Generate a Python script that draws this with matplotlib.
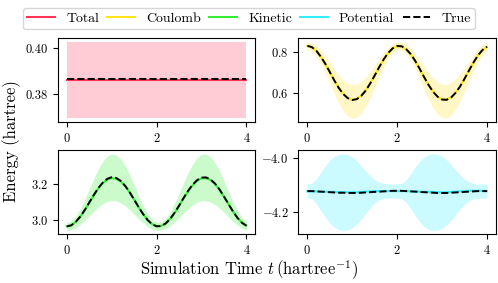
import numpy as np
import matplotlib
matplotlib.use('Agg')
import matplotlib.pyplot as plt
from matplotlib.ticker import MultipleLocator

plt.rcParams['font.family'] = 'serif'
plt.rcParams['font.serif'] = ['cmr10']
plt.rcParams['mathtext.fontset'] = 'cm'
plt.rcParams['axes.formatter.use_mathtext'] = True
plt.rcParams['axes.unicode_minus'] = True

# time grid (hartree^-1)
t = np.round(np.arange(41) * 0.1, 1)

# Total energy
total_true = [0.3867] * 41
total_pred = [0.3862] * 41
total_lo = [0.3696] * 41
total_hi = [0.4029] * 41

# Coulomb energy
coul_true = [0.830, 0.824, 0.806, 0.777, 0.742, 0.702, 0.661, 0.624, 0.594, 0.574,
             0.565, 0.569, 0.585, 0.611, 0.646, 0.685, 0.726, 0.764, 0.795, 0.818,
             0.829, 0.828, 0.814, 0.790, 0.757, 0.718, 0.677, 0.638, 0.605, 0.581,
             0.567, 0.566, 0.577, 0.600, 0.631, 0.669, 0.710, 0.749, 0.784, 0.810, 0.826]
coul_pred = [0.829, 0.823, 0.806, 0.778, 0.743, 0.703, 0.662, 0.625, 0.595, 0.575,
             0.566, 0.570, 0.586, 0.612, 0.646, 0.685, 0.725, 0.763, 0.794, 0.817,
             0.828, 0.827, 0.813, 0.790, 0.757, 0.718, 0.678, 0.639, 0.606, 0.582,
             0.568, 0.567, 0.578, 0.601, 0.632, 0.669, 0.709, 0.748, 0.783, 0.809, 0.825]
coul_hi = [0.850, 0.845, 0.831, 0.808, 0.780, 0.749, 0.716, 0.687, 0.663, 0.647,
           0.640, 0.643, 0.656, 0.676, 0.704, 0.735, 0.768, 0.798, 0.822, 0.841,
           0.849, 0.849, 0.837, 0.818, 0.792, 0.761, 0.729, 0.698, 0.672, 0.653,
           0.642, 0.641, 0.650, 0.668, 0.692, 0.722, 0.755, 0.786, 0.814, 0.834, 0.847]
coul_lo = [0.810, 0.802, 0.780, 0.743, 0.699, 0.648, 0.596, 0.550, 0.512, 0.486,
           0.475, 0.480, 0.500, 0.533, 0.577, 0.627, 0.679, 0.727, 0.766, 0.795,
           0.809, 0.807, 0.790, 0.759, 0.718, 0.668, 0.617, 0.567, 0.526, 0.495,
           0.478, 0.476, 0.490, 0.519, 0.559, 0.607, 0.658, 0.708, 0.752, 0.785, 0.805]

# Kinetic energy
kin_true = [2.965, 2.971, 2.990, 3.019, 3.055, 3.096, 3.137, 3.175, 3.205, 3.226,
            3.235, 3.231, 3.215, 3.188, 3.153, 3.112, 3.071, 3.033, 3.000, 2.977,
            2.966, 2.967, 2.981, 3.006, 3.040, 3.079, 3.121, 3.160, 3.194, 3.219,
            3.233, 3.234, 3.223, 3.200, 3.168, 3.129, 3.088, 3.047, 3.012, 2.985, 2.969]
kin_pred = [2.966, 2.972, 2.990, 3.018, 3.054, 3.094, 3.135, 3.172, 3.202, 3.222,
            3.230, 3.227, 3.212, 3.186, 3.152, 3.112, 3.071, 3.033, 3.001, 2.978,
            2.967, 2.968, 2.982, 3.006, 3.039, 3.078, 3.119, 3.157, 3.190, 3.215,
            3.229, 3.230, 3.220, 3.198, 3.167, 3.129, 3.088, 3.048, 3.013, 2.986, 2.970]
kin_hi = [2.987, 2.996, 3.022, 3.062, 3.112, 3.169, 3.227, 3.279, 3.321, 3.350,
          3.363, 3.357, 3.335, 3.298, 3.249, 3.192, 3.135, 3.082, 3.036, 3.004,
          2.988, 2.990, 3.009, 3.044, 3.091, 3.146, 3.204, 3.259, 3.306, 3.341,
          3.360, 3.362, 3.346, 3.314, 3.270, 3.215, 3.158, 3.101, 3.053, 3.015, 2.993]
kin_lo = [2.943, 2.947, 2.958, 2.976, 2.998, 3.023, 3.048, 3.071, 3.089, 3.102,
          3.107, 3.105, 3.095, 3.079, 3.057, 3.032, 3.007, 2.985, 2.964, 2.950,
          2.944, 2.944, 2.953, 2.968, 2.989, 3.012, 3.038, 3.061, 3.082, 3.097,
          3.106, 3.106, 3.100, 3.086, 3.067, 3.043, 3.018, 2.993, 2.972, 2.955, 2.945]

# Potential energy
pot_true = [-4.124, -4.124, -4.125, -4.126, -4.127, -4.128, -4.129, -4.130, -4.130, -4.131,
            -4.131, -4.131, -4.130, -4.129, -4.128, -4.127, -4.126, -4.125, -4.124, -4.123,
            -4.123, -4.123, -4.124, -4.125, -4.126, -4.127, -4.128, -4.129, -4.130, -4.131,
            -4.131, -4.131, -4.130, -4.129, -4.128, -4.127, -4.126, -4.125, -4.124, -4.124, -4.124]
pot_pred = [-4.125, -4.125, -4.125, -4.126, -4.126, -4.127, -4.127, -4.128, -4.128, -4.128,
            -4.128, -4.128, -4.127, -4.126, -4.125, -4.124, -4.124, -4.124, -4.124, -4.124,
            -4.124, -4.124, -4.124, -4.125, -4.125, -4.126, -4.126, -4.127, -4.127, -4.128,
            -4.128, -4.128, -4.127, -4.126, -4.125, -4.124, -4.123, -4.123, -4.123, -4.123, -4.124]
pot_hi = [-4.097, -4.095, -4.080, -4.055, -4.030, -4.010, -3.996, -3.988, -3.986, -3.989,
          -3.998, -4.012, -4.030, -4.050, -4.068, -4.082, -4.091, -4.095, -4.097, -4.098,
          -4.097, -4.095, -4.083, -4.060, -4.035, -4.013, -3.998, -3.989, -3.986, -3.988,
          -3.995, -4.008, -4.025, -4.045, -4.064, -4.080, -4.090, -4.096, -4.098, -4.098, -4.098]
pot_lo = [-4.150, -4.152, -4.170, -4.195, -4.220, -4.242, -4.258, -4.267, -4.270, -4.268,
          -4.260, -4.246, -4.228, -4.207, -4.186, -4.168, -4.157, -4.151, -4.150, -4.149,
          -4.150, -4.152, -4.165, -4.188, -4.214, -4.237, -4.255, -4.266, -4.270, -4.269,
          -4.262, -4.250, -4.233, -4.212, -4.190, -4.172, -4.160, -4.153, -4.151, -4.150, -4.150]

names = ['Total', 'Coulomb', 'Kinetic', 'Potential']
colors = ['#ff3355', '#ffe21a', '#33ee33', '#33eeff']
panels = [
    (total_pred, total_true, total_lo, total_hi, 0.02),
    (coul_pred, coul_true, coul_lo, coul_hi, 0.2),
    (kin_pred, kin_true, kin_lo, kin_hi, 0.2),
    (pot_pred, pot_true, pot_lo, pot_hi, 0.2),
]

fig, axes = plt.subplots(2, 2, figsize=(4.98, 2.83), dpi=100)
fig.subplots_adjust(left=0.116, right=0.996, bottom=0.172, top=0.866,
                    wspace=0.217, hspace=0.33)

handles = []
for ax, name, c, (pred, true, lo, hi, step) in zip(axes.flat, names, colors, panels):
    ax.fill_between(t, lo, hi, color=c, alpha=0.25, lw=0)
    h, = ax.plot(t, pred, color=c, lw=1.5, label=name)
    ht, = ax.plot(t, true, color='black', ls='--', lw=1.4, label='True')
    handles.append(h)
    ax.xaxis.set_major_locator(MultipleLocator(2))
    ax.yaxis.set_major_locator(MultipleLocator(step))
    ax.tick_params(labelsize=9)
    if step == 0.02:
        ax.yaxis.set_major_formatter(plt.FormatStrFormatter('%.2f'))
    else:
        ax.yaxis.set_major_formatter(plt.FormatStrFormatter('$%.1f$'))
handles.append(ht)

fig.legend(handles, names + ['True'], loc='upper center', bbox_to_anchor=(0.5, 0.995),
           ncol=5, fontsize=10, columnspacing=0.6, handletextpad=0.8,
           borderpad=0.3)
fig.supxlabel(r'Simulation Time $t\,(\mathrm{hartree}^{-1})$', fontsize=12, y=0.005)
fig.supylabel('Energy (hartree)', fontsize=12, x=0.005)

fig.savefig('out.png', dpi=100)
